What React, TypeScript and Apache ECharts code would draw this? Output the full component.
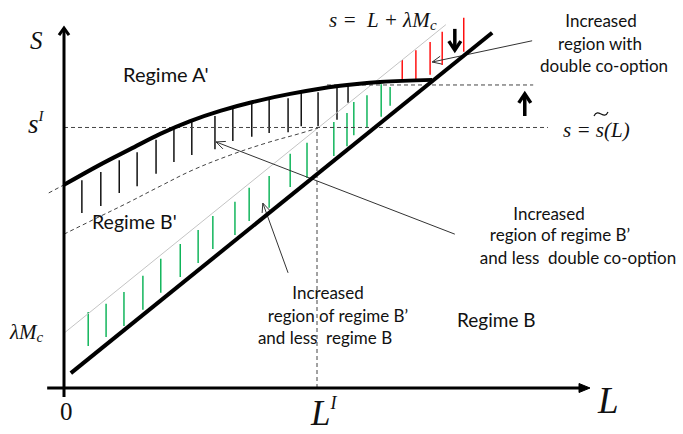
import React, { useEffect, useRef } from 'react';
import * as echarts from 'echarts';

// ---- axis ranges (L horizontal, s vertical) ----
const L_MIN = -0.4;
const L_MAX = 10.2;
const S_MIN = -0.3;
const S_MAX = 8.8;

// ---- key levels ----
const S_I = 6.13; // s^I
const L_I = 4.81; // L^I
const S_TILDE_UP = 7.13; // shifted s~ level

// ---- curves, [L, s] ----
const curveA = [
  [0, 4.78], [0.68, 5.25], [1.26, 5.62], [1.83, 5.98], [2.4, 6.28], [2.97, 6.52],
  [3.59, 6.73], [4.3, 6.92], [5.25, 7.11], [6.01, 7.2], [7.0, 7.25],
];
const curveAExt = [[-0.29, 4.59], [0, 4.78]];
const curveB = [
  [0, 3.62], [0.59, 3.98], [1.2, 4.35], [1.83, 4.75], [2.45, 5.13],
  [3.16, 5.48], [3.86, 5.77], [4.49, 5.99], [4.83, 6.12],
];
const lineThick = [[0.13, 0.35], [8.14, 8.36]]; // boundary s = L
const lineThin = [[0, 1.29], [7.26, 8.55]]; // s = L + λMc
const dashSI = [[0, S_I], [9.2, S_I]];
const dashUp = [[5.0, S_TILDE_UP], [8.92, S_TILDE_UP]];
const dashLI = [[L_I, 0], [L_I, S_I]];

// ---- hatching [L, sTop, sBottom] ----
const blackHatch = [
  [0.34, 4.89, 4.12], [0.7, 5.08, 4.28], [1.05, 5.36, 4.59], [1.39, 5.55, 4.75],
  [1.75, 5.84, 5.04], [2.09, 6.12, 5.32], [2.43, 6.26, 5.48], [2.87, 6.4, 5.62],
  [3.21, 6.58, 5.81], [3.57, 6.68, 5.91], [3.9, 6.78, 6.0], [4.26, 6.82, 6.02],
  [4.51, 6.96, 6.16], [4.83, 6.96, 6.16], [5.19, 7.08, 6.31], [5.4, 7.11, 6.71],
];
const greenHatch = [
  [0.46, 1.79, 0.99], [0.8, 1.98, 1.2], [1.14, 2.26, 1.46], [1.5, 2.64, 1.84],
  [1.84, 3.04, 2.24], [2.21, 3.39, 2.61], [2.55, 3.72, 2.94], [2.83, 4.05, 3.27],
  [3.25, 4.38, 3.6], [3.52, 4.71, 3.93], [3.9, 4.99, 4.24], [4.3, 5.51, 4.73],
  [4.62, 5.77, 4.94], [5.13, 6.26, 5.46], [5.38, 6.47, 5.69], [5.51, 6.73, 5.95],
  [5.76, 6.89, 6.12], [6.03, 7.15, 6.38], [6.2, 7.08, 6.64],
];
const redHatch = [
  [6.43, 7.72, 7.2], [6.69, 7.95, 7.25], [6.96, 8.14, 7.37], [7.19, 8.38, 7.6], [7.6, 8.71, 7.91],
];

// ---- arrows [L1, s1, L2(head), s2(head)] ----
const pointerArrows = [
  [8.9, 8.17, 7.0, 7.67],
  [7.43, 3.62, 2.89, 5.79],
  [4.26, 2.71, 3.78, 4.35],
];
const shiftArrows = [
  [7.43, 8.45, 7.43, 7.95],
  [8.76, 6.4, 8.76, 6.92],
];
const yAxisArrow = [[0, -0.21, 0, 8.47]];
const xAxisArrow = [[-0.32, 0, 10.0, 0]];

const SANS = 'Lato, "Open Sans", sans-serif';
const SERIF = '"Liberation Serif", "DejaVu Serif", serif';

function lineSeries(data: number[][], color: string, width: number, dashed = false, smooth: number | boolean = false, z = 3) {
  return {
    type: 'line',
    data,
    symbol: 'none',
    smooth,
    silent: true,
    z,
    lineStyle: { color, width, type: dashed ? [4, 3] : 'solid', cap: 'butt' },
  };
}

function hatchSeries(data: number[][], color: string) {
  return {
    type: 'custom',
    data,
    silent: true,
    clip: false,
    z: 2,
    encode: { x: 0, y: [1, 2] },
    renderItem: (_p: any, api: any) => {
      const a = api.coord([api.value(0), api.value(1)]);
      const b = api.coord([api.value(0), api.value(2)]);
      return {
        type: 'line',
        shape: { x1: a[0], y1: a[1], x2: b[0], y2: b[1] },
        style: { stroke: color, lineWidth: 1.4 },
      };
    },
  };
}

function arrowSeries(data: number[][], color: string, lw: number, head: number, headW: number, filled = false) {
  return {
    type: 'custom',
    data,
    silent: true,
    clip: false,
    z: 4,
    encode: { x: [0, 2], y: [1, 3] },
    renderItem: (_p: any, api: any) => {
      const a = api.coord([api.value(0), api.value(1)]);
      const b = api.coord([api.value(2), api.value(3)]);
      const dx = b[0] - a[0];
      const dy = b[1] - a[1];
      const len = Math.hypot(dx, dy) || 1;
      const ux = dx / len;
      const uy = dy / len;
      const bx = b[0] - ux * head;
      const by = b[1] - uy * head;
      const p1 = [bx - uy * headW, by + ux * headW];
      const p2 = [bx + uy * headW, by - ux * headW];
      const end = filled ? [b[0] - ux * head * 0.6, b[1] - uy * head * 0.6] : b;
      return {
        type: 'group',
        children: [
          {
            type: 'line',
            shape: { x1: a[0], y1: a[1], x2: end[0], y2: end[1] },
            style: { stroke: color, lineWidth: lw },
          },
          filled
            ? { type: 'polygon', shape: { points: [p1, b, p2] }, style: { fill: color, stroke: color, lineWidth: 1 } }
            : { type: 'polyline', shape: { points: [p1, b, p2] }, style: { stroke: color, lineWidth: lw, fill: 'none', lineJoin: 'miter' } },
        ],
      };
    },
  };
}

function txt(text: string, x: number, y: number, font: string, align = 'left', fill = '#111') {
  return {
    type: 'text',
    x,
    y,
    silent: true,
    z: 100,
    style: { text, font, fill, textAlign: align, align, textVerticalAlign: 'middle', verticalAlign: 'middle' },
  };
}

// main text followed by a subscript/superscript, as rich text
function mathTxt(main: string, small: string, x: number, y: number, size: number, smallSize: number, pos: 'bottom' | 'top') {
  return {
    type: 'text',
    x,
    y,
    silent: true,
    z: 100,
    style: {
      text: `{m|${main}}{s|${small}}`,
      fill: '#111',
      textAlign: 'left',
      align: 'left',
      textVerticalAlign: 'middle',
      verticalAlign: 'middle',
      rich: {
        m: { fontFamily: SERIF, fontStyle: 'italic', fontSize: size, lineHeight: size + 4, fill: '#111' },
        s: { fontFamily: SERIF, fontStyle: 'italic', fontSize: smallSize, lineHeight: smallSize, fill: '#111', verticalAlign: pos },
      },
    },
  };
}

export default function App() {
  const ref = useRef<HTMLDivElement>(null);
  useEffect(() => {
    if (!ref.current) return;
    const chart = echarts.init(ref.current, undefined, { renderer: 'svg' });
    const option: any = {
      animation: false,
      backgroundColor: '#ffffff',
      grid: { left: 42.96, top: 14, width: 557.56, height: 386.75 },
      xAxis: { type: 'value', min: L_MIN, max: L_MAX, show: false },
      yAxis: { type: 'value', min: S_MIN, max: S_MAX, show: false },
      series: [
        hatchSeries(blackHatch, '#000000'),
        hatchSeries(greenHatch, '#00b050'),
        hatchSeries(redHatch, '#ff0000'),
        lineSeries(lineThin, '#c4c4c4', 1),
        lineSeries(dashSI, '#444', 1, true),
        lineSeries(dashUp, '#444', 1, true),
        lineSeries(dashLI, '#444', 1, true),
        lineSeries(curveB, '#444', 1, true, 0.35),
        lineSeries(curveAExt, '#444', 1, true),
        lineSeries(curveA, '#000', 4, false, 0.35, 5),
        lineSeries(lineThick, '#000', 4, false, false, 5),
        arrowSeries(yAxisArrow, '#000', 3, 7, 5),
        arrowSeries(xAxisArrow, '#000', 3, 11, 4.5, true),
        arrowSeries(pointerArrows, '#333', 1, 9, 4),
        arrowSeries(shiftArrows, '#000', 3.5, 9, 6),
      ],
      graphic: [
        // axis and math labels
        txt('S', 30, 40.5, `italic 25px ${SERIF}`),
        mathTxt('s', 'I', 28, 124, 27, 15, 'top'),
        mathTxt('λM', 'c', 10, 332, 21, 15, 'bottom'),
        txt('0', 60, 411.5, `25px ${SERIF}`),
        txt('L', 598, 400, `italic 37px ${SERIF}`),
        mathTxt('L', 'I', 311, 413, 35, 18, 'top'),
        mathTxt('s =  L + λM', 'c', 329, 20, 21, 15, 'bottom'),
        txt('s = s(L)', 563, 130, `italic 21px ${SERIF}`),
        {
          type: 'bezierCurve',
          silent: true,
          z: 100,
          shape: { x1: 594, y1: 116, x2: 608, y2: 112, cpx1: 598, cpy1: 107, cpx2: 604, cpy2: 121 },
          style: { stroke: '#111', lineWidth: 1.2, fill: 'none' },
        },
        // regime labels
        txt("Regime A'", 123, 74, `20px ${SANS}`),
        txt("Regime B'", 92, 221, `19.5px ${SANS}`),
        txt('Regime B', 457, 319, `19px ${SANS}`),
        // annotations
        txt('Increased', 601, 20, `17px ${SANS}`, 'center'),
        txt('region with', 600, 43, `17px ${SANS}`, 'center'),
        txt('double co-option', 604, 65, `17px ${SANS}`, 'center'),
        txt('Increased', 549, 213, `17px ${SANS}`, 'center'),
        txt('region of regime B’', 560, 234, `17px ${SANS}`, 'center'),
        txt('and less  double co-option', 578, 257, `17px ${SANS}`, 'center'),
        txt('Increased', 328, 292, `17px ${SANS}`, 'center'),
        txt('region of regime B’', 338, 315, `17px ${SANS}`, 'center'),
        txt('and less  regime B', 325, 337, `17px ${SANS}`, 'center'),
      ],
    };
    chart.setOption(option);
    return () => chart.dispose();
  }, []);
  return <div ref={ref} style={{ position: 'fixed', left: 0, top: 0, width: 683, height: 434, background: '#fff' }} />;
}
